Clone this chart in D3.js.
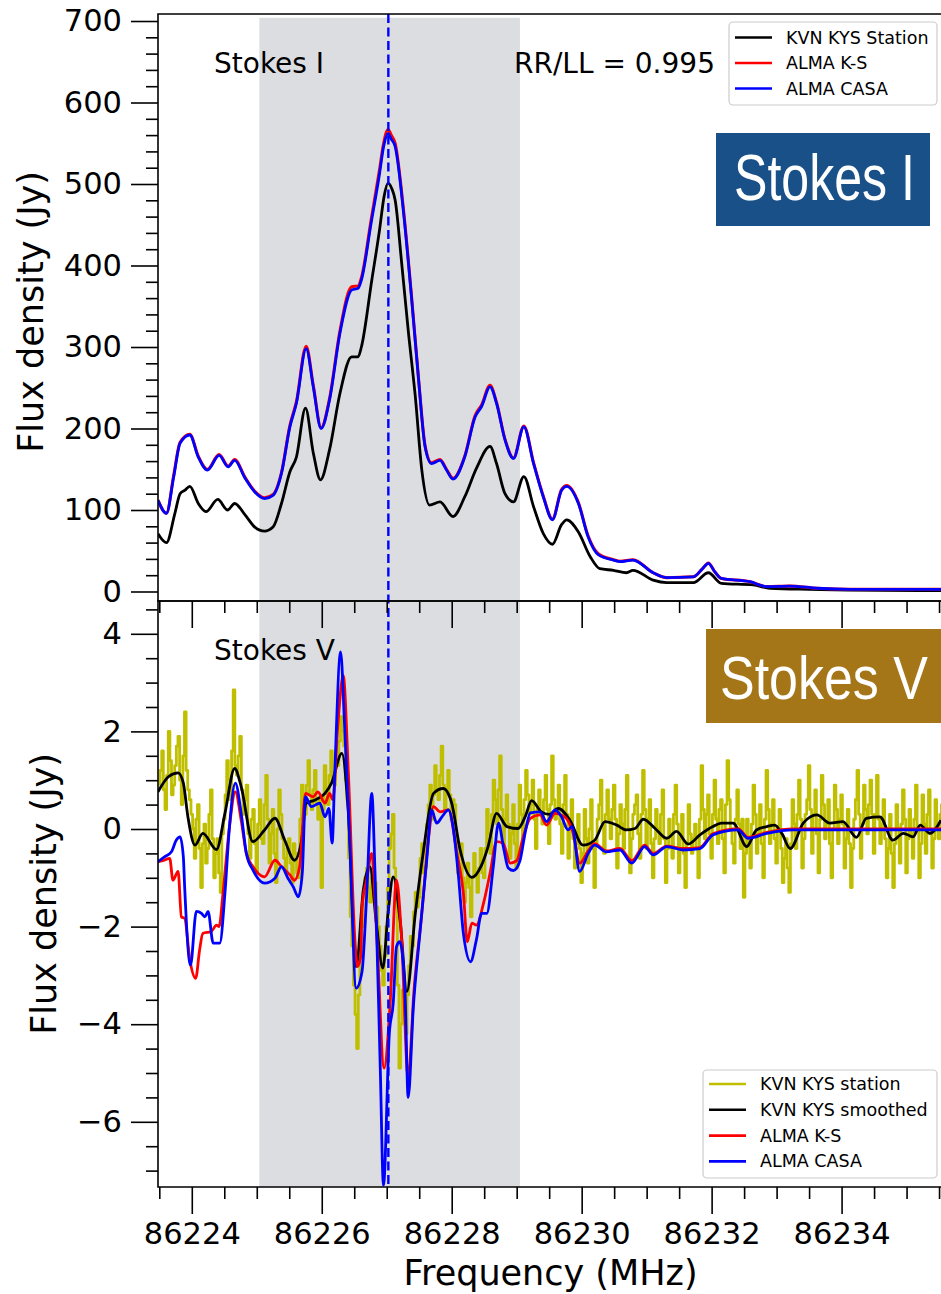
<!DOCTYPE html>
<html>
<head>
<meta charset="utf-8">
<script src="https://cdnjs.cloudflare.com/ajax/libs/d3/7.8.5/d3.min.js"></script>
<style>
  body { margin: 0; background: #fff; }
  svg { display: block; font-family: 'DejaVu Sans', sans-serif; }
</style>
</head>
<body>
<svg id="chart"></svg>
<script>
// ---- Stokes I spectra: [frequency (MHz), flux (Jy)] ----
let iKvn = [[86223.48,71],[86223.61,60],[86223.74,96],[86223.82,120],[86223.89,124],[86223.97,129],[86224.10,108],
  [86224.22,98],[86224.40,113],[86224.55,100],[86224.66,108],[86224.82,94],[86224.97,79],[86225.12,74],[86225.25,79],
  [86225.38,108],[86225.51,147],[86225.61,165],[86225.75,225],[86225.87,170],[86225.98,137],[86226.12,174],[86226.28,243],
  [86226.46,288],[86226.56,288],[86226.61,300],[86226.77,382],[86226.89,444],[86226.96,485],[86227.02,501],[86227.08,494],
  [86227.13,480],[86227.23,403],[86227.33,321],[86227.44,239],[86227.54,149],[86227.66,106],[86227.82,110],[86228.02,92],
  [86228.20,116],[86228.38,151],[86228.59,178],[86228.69,157],[86228.82,120],[86228.95,110],[86229.11,141],[86229.26,104],
  [86229.41,71],[86229.55,58],[86229.69,82],[86229.77,88],[86229.95,73],[86230.13,43],[86230.28,28],[86230.49,26],
  [86230.69,23],[86230.79,26],[86231.10,14],[86231.31,11],[86231.72,11],[86231.95,23],[86232.15,10],[86232.64,8],
  [86232.90,4],[86233.50,2.7],[86235.53,1]];

let iAlmaKS = [[86223.48,112],[86223.61,96],[86223.72,142],[86223.82,183],[86223.97,193],[86224.10,166],[86224.24,150],
  [86224.42,168],[86224.56,154],[86224.66,162],[86224.82,140],[86224.97,123],[86225.12,115],[86225.25,119],[86225.38,146],
  [86225.51,204],[86225.61,233],[86225.76,301],[86225.87,253],[86225.99,201],[86226.12,237],[86226.28,320],[86226.46,374],
  [86226.56,375],[86226.61,385],[86226.76,456],[86226.89,518],[86226.95,549],[86227.02,567],[86227.07,560],[86227.13,550],
  [86227.26,467],[86227.38,364],[86227.49,261],[86227.59,179],[86227.69,158],[86227.82,162],[86227.92,150],[86228.02,139],
  [86228.20,166],[86228.36,216],[86228.46,229],[86228.59,253],[86228.69,232],[86228.82,187],[86228.95,164],[86229.11,203],
  [86229.26,158],[86229.41,117],[86229.55,89],[86229.69,125],[86229.77,130],[86229.95,109],[86230.10,68],[86230.26,46],
  [86230.49,39],[86230.59,37],[86230.79,39],[86231.10,23],[86231.31,17],[86231.72,18],[86231.86,28],[86231.95,35],
  [86232.05,24],[86232.15,16],[86232.59,12],[86232.85,6],[86233.20,6.7],[86233.62,4],[86234.13,2.7],[86235.53,2.7]];

let iAlmaCasa = [[86223.48,112],[86223.61,96],[86223.72,140],[86223.82,182],[86223.97,192],[86224.10,165],[86224.24,149],
  [86224.42,167],[86224.56,153],[86224.66,161],[86224.82,139],[86224.97,122],[86225.12,114],[86225.25,118],[86225.38,145],
  [86225.51,202],[86225.61,231],[86225.76,298],[86225.87,251],[86225.99,200],[86226.12,235],[86226.28,317],[86226.46,370],
  [86226.56,372],[86226.61,382],[86226.76,452],[86226.89,513],[86226.95,545],[86227.02,562],[86227.07,555],[86227.13,546],
  [86227.26,464],[86227.38,362],[86227.49,260],[86227.59,178],[86227.69,157],[86227.82,161],[86227.92,149],[86228.02,138],
  [86228.20,165],[86228.36,214],[86228.46,227],[86228.59,251],[86228.69,231],[86228.82,186],[86228.95,163],[86229.11,202],
  [86229.26,157],[86229.41,116],[86229.55,88],[86229.69,124],[86229.77,129],[86229.95,108],[86230.10,67],[86230.26,45],
  [86230.49,38.6],[86230.59,36.6],[86230.79,38.6],[86231.10,23],[86231.31,17],[86231.72,18],[86231.86,28],[86231.95,34.6],
  [86232.05,24],[86232.15,16],[86232.59,12],[86232.85,6],[86233.20,6.7],[86233.62,4],[86234.13,2.7],[86235.53,2.7]];

// ---- Stokes V spectra ----
// raw KVN channels, 0.025 MHz apart starting at 86223.50 (one row = 0.5 MHz)
let vKvnRawStart = 86223.50;
let vKvnRawStep = 0.025;
let vKvnRaw = [
  0.9, 1.2, 1.6, 0.8, 0.4, 1.1, 2.0, 1.4, 0.7, 0.9, 1.3, 1.7, 1.9, 1.0, 0.5, 1.5, 2.4, 1.2, 0.8, 0.6,
  0.3, 0.0, -0.6, 0.2, 0.5, -0.4, -1.2, -0.3, 0.1, -0.7, -0.4, 0.3, 0.8, -0.2, -1.0, -0.5, -0.2, -0.9, -1.3, -0.1,
  0.2, 0.7, 1.4, 1.0, 0.6, 1.6, 2.85, 1.3, 1.1, 1.5, 1.9, 0.8, 0.3, 0.6, 0.9, -0.1, -0.6, 0.2, 0.4, -0.3,
  -0.9, 0.1, 0.6, -0.2, -0.3, 0.5, 1.1, 0.2, -0.7, -0.1, 0.4, -0.5, -1.1, 0.0, 0.8, 0.3, -0.2, -0.6, -0.9, -0.4,
  -0.2, -0.7, -1.1, -0.3, -0.5, -0.9, -1.0, 0.2, 0.9, 0.6, 0.3, 0.9, 1.4, 0.7, 0.4, 0.8, 1.2, 0.5, 0.2, 0.6,
  -1.2, 0.4, 1.3, 0.8, 0.5, 1.1, 1.6, 1.0, 0.9, 1.4, 1.3, 1.8, 2.3, 2.0, 1.7, 1.0, 0.6, -0.6, -1.8, -2.4,
  -3.2, -3.8, -4.5, -3.4, -2.6, -2.0, -1.4, -1.0, -0.8, -1.2, -1.5, -1.0, -0.6, -1.1, -1.6, -2.0, -2.4, -2.9, -3.2, -2.6,
  -2.0, -1.2, -0.4, -0.1, 0.3, -0.8, -1.6, -3.2, -4.9, -4.0, -3.3, -3.8, -4.2, -3.4, -2.8, -2.2, -2.4, -1.7, -1.3, -1.6,
  -1.4, -0.6, -0.3, -0.9, -0.8, 0.1, 0.5, 0.9, 0.2, 0.7, 1.3, 0.8, 0.6, 1.1, 1.7, 0.9, 0.4, 0.8, 1.2, 0.7,
  0.2, 0.6, 0.5, -0.3, -0.9, -0.5, -0.3, -1.0, -1.5, -1.1, -0.7, -1.2, -1.8, -1.0, -0.5, -0.9, -1.3, -0.8, -0.4, -0.9,
  -1.0, -0.4, 0.4, -0.1, -0.5, 0.3, 1.0, 0.6, 0.1, 0.8, 1.5, 0.4, -0.3, 0.2, 0.7, 0.1, -0.6, -0.1, 0.5, -0.3,
  -0.8, 0.1, 0.9, 0.3, -0.2, 0.6, 1.2, 0.7, 0.3, 0.5, 1.0, 0.2, -0.4, 0.4, 0.8, 0.3, 0.1, 0.6, 1.1, 0.4,
  -0.3, 0.5, 1.5, 0.6, 0.2, 0.4, 0.9, 0.1, -0.5, 0.5, 1.1, 0.3, -0.6, 0.0, 0.6, -0.2, -0.8, -0.3, 0.3, -0.4,
  -1.1, -0.5, 0.4, -0.2, -0.7, 0.0, 0.6, -0.4, -1.2, -0.3, 0.2, 0.5, 1.0, 0.1, -0.5, 0.3, 0.8, 0.2, -0.2, 0.4,
  0.9, 0.2, -0.8, -0.1, 0.5, 0.1, -0.4, 0.4, 1.1, 0.0, -0.9, -0.2, 0.3, 0.5, 0.7, -0.1, -0.6, 0.3, 1.2, 0.4,
  -0.4, 0.2, 0.6, -0.3, -1.0, -0.2, 0.4, 0.0, -0.3, 0.3, 0.8, -0.2, -1.1, -0.4, 0.2, -0.1, -0.6, 0.3, 0.9, 0.1,
  -0.9, -0.2, 0.3, -0.5, -1.2, -0.3, 0.5, -0.1, -0.5, -0.2, 0.1, -0.4, -1.0, 0.2, 1.3, 0.4, -0.2, 0.3, 0.7, -0.1,
  -0.6, 0.3, 1.0, 0.2, -0.3, 0.4, 0.6, -0.2, -0.9, 0.5, 1.4, 0.6, 0.0, -0.3, -0.7, 0.2, 0.8, 0.1, -0.4, 0.2,
  -1.4, -0.5, 0.2, -0.3, -0.8, 0.1, 0.9, 0.3, -0.5, -0.1, 0.5, -0.3, -1.0, 0.2, 1.2, 0.4, -0.3, 0.1, 0.6, -0.2,
  -0.7, 0.0, 0.4, -0.4, -1.1, -0.6, -0.2, -0.8, -1.3, -0.3, 0.6, 0.1, -0.4, 0.3, 1.0, 0.2, -0.8, -0.2, 0.3, 0.6,
  1.3, 0.4, -0.5, 0.3, 0.8, -0.1, -0.9, 0.2, 1.1, 0.5, -0.2, 0.1, 0.6, -0.3, -1.0, 0.0, 0.9, 0.4, -0.3, 0.2,
  0.7, 0.1, -0.8, -0.2, 0.4, -0.3, -1.2, -0.4, 0.2, 0.6, 1.2, 0.3, -0.6, 0.1, 0.9, 0.4, -0.1, 0.5, 1.0, 0.3,
  -0.5, 0.3, 1.1, 0.2, -0.3, 0.1, 0.6, -0.2, -1.0, -0.4, 0.3, -0.5, -1.2, -0.3, 0.5, 0.0, -0.7, 0.1, 0.8, 0.2,
  -0.9, -0.2, 0.4, -0.1, -0.6, 0.2, 0.9, 0.0, -1.0, -0.3, 0.7, 0.1, -0.5, 0.3, 0.8, -0.1, -0.8, -0.2, 0.6, 0.1,
  -0.2, 0.3, 0.5];

let vKvnSmooth = [[86223.48,0.76],[86223.64,1.07],[86223.79,1.15],[86223.87,0.94],[86223.94,0.25],[86224.05,-0.33],
  [86224.17,-0.09],[86224.38,-0.42],[86224.51,0.32],[86224.66,1.24],[86224.76,0.87],[86224.94,-0.26],[86225.12,-0.02],
  [86225.28,0.22],[86225.43,-0.23],[86225.58,-0.64],[86225.69,-0.23],[86225.76,0.53],[86225.89,0.59],[86226.05,0.73],
  [86226.15,0.94],[86226.31,1.55],[86226.41,0.32],[86226.53,-2.82],[86226.64,-1.25],[86226.74,-0.77],[86226.84,-1.93],
  [86226.94,-2.85],[86227.02,-1.73],[86227.10,-0.98],[86227.21,-1.93],[86227.31,-3.33],[86227.44,-1.73],[86227.56,-0.5],
  [86227.72,0.73],[86227.87,0.83],[86228.00,0.53],[86228.13,-0.43],[86228.31,-0.99],[86228.46,-0.74],[86228.56,-0.36],
  [86228.69,0.32],[86228.85,0.05],[86229.02,0.01],[86229.13,0.25],[86229.23,0.58],[86229.38,0.35],[86229.50,0.3],
  [86229.64,0.42],[86229.82,0.18],[86230.02,-0.33],[86230.20,-0.23],[86230.36,0.15],[86230.54,0.08],[86230.69,-0.02],
  [86230.82,0.01],[86230.95,0.2],[86231.13,0.01],[86231.31,-0.19],[86231.46,-0.05],[86231.64,-0.31],[86231.82,-0.12],
  [86232.02,0.05],[86232.15,0.12],[86232.33,0.12],[86232.54,-0.36],[86232.69,-0.02],[86232.85,0.05],[86232.97,0.08],
  [86233.08,-0.09],[86233.21,-0.4],[86233.41,0.12],[86233.62,0.29],[86233.82,0.12],[86234.02,0.15],[86234.23,-0.17],
  [86234.38,0.22],[86234.59,0.25],[86234.79,-0.23],[86234.95,-0.09],[86235.10,-0.16],[86235.21,0.08],[86235.36,-0.09],
  [86235.53,0.18]];

let vAlmaKS = [[86223.48,-0.67],[86223.58,-0.64],[86223.66,-0.6],[86223.71,-1.05],[86223.79,-0.87],[86223.84,-1.8],
  [86223.89,-1.83],[86223.97,-2.68],[86224.06,-3.06],[86224.12,-2.48],[86224.17,-2.14],[86224.30,-2.1],[86224.38,-1.97],
  [86224.42,-2.0],[86224.48,-1.32],[86224.58,0.05],[86224.67,0.76],[86224.76,0.18],[86224.84,-0.5],[86224.94,-0.77],
  [86225.12,-0.98],[86225.28,-0.64],[86225.38,-0.77],[86225.51,-0.94],[86225.58,-1.05],[86225.66,-0.77],[86225.75,0.73],
  [86225.87,0.66],[86225.94,0.76],[86226.05,0.53],[86226.12,0.73],[86226.17,0.6],[86226.25,2.17],[86226.33,3.15],
  [86226.41,1.14],[86226.51,-2.27],[86226.55,-2.82],[86226.60,-2.62],[86226.62,-1.59],[86226.69,-1.05],[86226.77,-0.5],
  [86226.85,-2.27],[86226.96,-4.9],[86227.05,-3.64],[86227.15,-1.05],[86227.23,-2.27],[86227.33,-5.1],[86227.42,-3.3],
  [86227.54,-1.73],[86227.64,-0.23],[86227.72,0.46],[86227.82,0.35],[86227.95,0.39],[86228.08,-0.5],[86228.18,-1.32],
  [86228.24,-2.31],[86228.31,-1.93],[86228.38,-1.97],[86228.49,-1.52],[86228.59,-0.91],[86228.69,-0.26],[86228.79,-0.29],
  [86228.90,-0.7],[86229.00,-0.65],[86229.10,-0.16],[86229.21,0.22],[86229.36,0.29],[86229.46,0.08],[86229.59,0.32],
  [86229.74,0.25],[86229.87,-0.09],[86229.97,-0.7],[86230.10,-0.45],[86230.20,-0.3],[86230.38,-0.45],[86230.59,-0.4],
  [86230.77,-0.65],[86230.97,-0.33],[86231.10,-0.5],[86231.31,-0.35],[86231.56,-0.4],[86231.82,-0.38],[86232.02,-0.1],
  [86232.41,0.0],[86232.56,-0.17],[86232.85,-0.07],[86233.26,0.0],[86235.53,0.0]];

let vAlmaCasa = [[86223.48,-0.67],[86223.58,-0.57],[86223.69,-0.46],[86223.76,-0.23],[86223.82,-0.16],[86223.87,-0.57],
  [86223.89,-1.18],[86223.98,-2.79],[86224.07,-1.69],[86224.15,-1.73],[86224.20,-1.8],[86224.25,-1.69],[86224.33,-2.34],
  [86224.43,-2.34],[86224.51,-1.32],[86224.58,0.05],[86224.67,0.94],[86224.76,0.32],[86224.84,-0.5],[86224.94,-0.84],
  [86225.12,-1.11],[86225.28,-1.01],[86225.38,-0.77],[86225.48,-1.01],[86225.56,-1.18],[86225.64,-1.39],[86225.70,-0.91],
  [86225.75,0.66],[86225.84,0.46],[86225.97,0.53],[86226.05,0.25],[86226.11,0.42],[86226.16,-0.29],[86226.20,1.14],
  [86226.29,3.63],[86226.35,2.17],[86226.43,-0.23],[86226.53,-3.26],[86226.62,-2.92],[86226.69,-1.39],[86226.77,0.73],
  [86226.82,-0.91],[86226.90,-4.87],[86226.95,-7.3],[86227.04,-4.19],[86227.10,-3.57],[86227.15,-2.41],[86227.20,-2.31],
  [86227.28,-3.3],[86227.33,-5.5],[86227.41,-3.64],[86227.51,-2.14],[86227.62,-0.57],[86227.69,0.39],[86227.77,0.12],
  [86227.85,0.25],[86227.95,0.39],[86228.02,0.05],[86228.10,-0.91],[86228.18,-2.14],[86228.29,-2.72],[86228.38,-2.27],
  [86228.46,-1.73],[86228.54,-1.73],[86228.64,-0.77],[86228.72,0.12],[86228.80,-0.4],[86228.87,-0.8],[86228.95,-0.85],
  [86229.05,-0.65],[86229.13,-0.08],[86229.21,0.33],[86229.36,0.35],[86229.46,0.15],[86229.59,0.39],[86229.69,0.25],
  [86229.79,-0.02],[86229.85,0.05],[86229.97,-0.87],[86230.10,-0.5],[86230.20,-0.33],[86230.38,-0.47],[86230.59,-0.43],
  [86230.77,-0.7],[86230.97,-0.36],[86231.10,-0.53],[86231.31,-0.36],[86231.56,-0.43],[86231.82,-0.40],[86232.02,-0.12],
  [86232.41,-0.02],[86232.56,-0.19],[86232.85,-0.09],[86233.26,-0.02],[86235.53,-0.02]];

// shaded window and line-of-sight velocity marker
let windowRange = [86225.04, 86229.05];
let markerFreq = 86227.025;

// axes
let xDomain = [86223.48, 86235.53];
let xTicks = [86224, 86226, 86228, 86230, 86232, 86234];
let iDomain = [-11.66, 708.6];
let iTicks = [0, 100, 200, 300, 400, 500, 600, 700];
let vDomain = [-7.336, 4.672];
let vTicks = [-6, -4, -2, 0, 2, 4];

let legendI = ['KVN KYS Station', 'ALMA K-S', 'ALMA CASA'];
let legendIColors = ['#000000', '#ff0000', '#0000ff'];
let legendV = ['KVN KYS station', 'KVN KYS smoothed', 'ALMA K-S', 'ALMA CASA'];
let legendVColors = ['#bfbf00', '#000000', '#ff0000', '#0000ff'];

let width = 941;
let height = 1294;
let left = 158, right = 941;
let topI = 14, bottomI = 601;
let topV = 601, bottomV = 1187;

let svg = d3.select('#chart').attr('width', width).attr('height', height);

let xScale = d3.scaleLinear().domain(xDomain).range([left, right]);
let yI = d3.scaleLinear().domain(iDomain).range([bottomI, topI]);
let yV = d3.scaleLinear().domain(vDomain).range([bottomV, topV]);

let defs = svg.append('defs');
defs.append('clipPath').attr('id', 'clipI').append('rect')
    .attr('x', left).attr('y', topI).attr('width', right - left).attr('height', bottomI - topI);
defs.append('clipPath').attr('id', 'clipV').append('rect')
    .attr('x', left).attr('y', topV).attr('width', right - left).attr('height', bottomV - topV);

// grey window
svg.append('rect')
   .attr('x', xScale(windowRange[0]))
   .attr('y', yI(704))
   .attr('width', xScale(windowRange[1]) - xScale(windowRange[0]))
   .attr('height', bottomI - yI(704))
   .attr('fill', '#dcdde0');
svg.append('rect')
   .attr('x', xScale(windowRange[0]))
   .attr('y', topV)
   .attr('width', xScale(windowRange[1]) - xScale(windowRange[0]))
   .attr('height', bottomV - topV)
   .attr('fill', '#dcdde0');

let drawLine = (data, yScale, color, clip, curve, w) => {
    let line = d3.line()
                 .x((d) => xScale(d[0]))
                 .y((d) => yScale(d[1]))
                 .curve(curve);
    svg.append('path')
       .datum(data)
       .attr('clip-path', 'url(#' + clip + ')')
       .attr('d', line)
       .attr('fill', 'none')
       .attr('stroke', color)
       .attr('stroke-width', w)
       .attr('stroke-linejoin', 'round');
}

// top panel: Stokes I
drawLine(iKvn, yI, '#000000', 'clipI', d3.curveMonotoneX, 2.8);
drawLine(iAlmaKS, yI, '#ff0000', 'clipI', d3.curveMonotoneX, 3);
drawLine(iAlmaCasa, yI, '#0000ff', 'clipI', d3.curveMonotoneX, 2.8);

// bottom panel: Stokes V
let rawPoints = vKvnRaw.map((v, i) => [vKvnRawStart + i * vKvnRawStep, v]);
drawLine(rawPoints, yV, '#bfbf00', 'clipV', d3.curveStep, 2.8);
drawLine(vKvnSmooth, yV, '#000000', 'clipV', d3.curveMonotoneX, 2.8);
drawLine(vAlmaKS, yV, '#ff0000', 'clipV', d3.curveMonotoneX, 2.8);
drawLine(vAlmaCasa, yV, '#0000ff', 'clipV', d3.curveMonotoneX, 2.8);

// dashed marker through both panels
svg.append('line')
   .attr('x1', xScale(markerFreq)).attr('x2', xScale(markerFreq))
   .attr('y1', topI).attr('y2', bottomV)
   .attr('stroke', '#0000ff')
   .attr('stroke-width', 2.4)
   .attr('stroke-dasharray', '9,4.5');

// frames
let frame = (y0, y1) => {
    svg.append('path')
       .attr('d', 'M' + right + ',' + y0 + 'H' + left + 'V' + y1 + 'H' + right)
       .attr('fill', 'none')
       .attr('stroke', '#000')
       .attr('stroke-width', 1.6);
}
frame(topI, bottomI);
frame(topV, bottomV);

// axes
let styleAxis = (g) => {
    g.select('.domain').remove();
    g.selectAll('line').attr('stroke', '#000').attr('stroke-width', 1.6);
    g.selectAll('text').attr('fill', '#000')
     .attr('font-family', 'DejaVu Sans, sans-serif').attr('font-size', 30.5);
}

let minorOf = (lo, hi, step, majors) => d3.range(lo, hi + step / 2, step)
    .map((v) => Math.round(v * 1000) / 1000)
    .filter((v) => !majors.includes(v));

svg.append('g').attr('transform', 'translate(' + left + ',0)')
   .call(d3.axisLeft(yI).tickValues(iTicks).tickFormat(d3.format('d')).tickSize(27).tickPadding(9))
   .call(styleAxis);
svg.append('g').attr('transform', 'translate(' + left + ',0)')
   .call(d3.axisLeft(yI).tickValues(minorOf(0, 700, 20, iTicks)).tickFormat('').tickSize(12))
   .call(styleAxis);

svg.append('g').attr('transform', 'translate(' + left + ',0)')
   .call(d3.axisLeft(yV).tickValues(vTicks).tickFormat(d3.format('d')).tickSize(27).tickPadding(9))
   .call(styleAxis);
svg.append('g').attr('transform', 'translate(' + left + ',0)')
   .call(d3.axisLeft(yV).tickValues(minorOf(-7, 4.5, 0.5, vTicks)).tickFormat('').tickSize(12))
   .call(styleAxis);

let xMinor = minorOf(86223.5, 86235.5, 0.5, xTicks);
svg.append('g').attr('transform', 'translate(0,' + bottomI + ')')
   .call(d3.axisBottom(xScale).tickValues(xTicks).tickFormat('').tickSize(27))
   .call(styleAxis);
svg.append('g').attr('transform', 'translate(0,' + bottomI + ')')
   .call(d3.axisBottom(xScale).tickValues(xMinor).tickFormat('').tickSize(12))
   .call(styleAxis);
svg.append('g').attr('transform', 'translate(0,' + bottomV + ')')
   .call(d3.axisBottom(xScale).tickValues(xTicks).tickFormat(d3.format('d')).tickSize(27).tickPadding(8))
   .call(styleAxis);
svg.append('g').attr('transform', 'translate(0,' + bottomV + ')')
   .call(d3.axisBottom(xScale).tickValues(xMinor).tickFormat('').tickSize(12))
   .call(styleAxis);

// axis titles
svg.append('text')
   .attr('transform', 'translate(43,' + 312 + ') rotate(-90)')
   .attr('text-anchor', 'middle').attr('font-size', 35)
   .text('Flux density (Jy)');
svg.append('text')
   .attr('transform', 'translate(56,' + (topV + bottomV) / 2 + ') rotate(-90)')
   .attr('text-anchor', 'middle').attr('font-size', 35)
   .text('Flux density (Jy)');
svg.append('text')
   .attr('x', (left + right) / 2 + 1).attr('y', 1285)
   .attr('text-anchor', 'middle').attr('font-size', 35)
   .text('Frequency (MHz)');

// panel annotations
svg.append('text').attr('x', 214).attr('y', 73).attr('font-size', 28).text('Stokes I');
svg.append('text').attr('x', 514).attr('y', 73).attr('font-size', 28).text('RR/LL = 0.995');
svg.append('text').attr('x', 214).attr('y', 660).attr('font-size', 28).text('Stokes V');

// coloured badges, text squeezed horizontally like a narrow face
let badge = (x, y, w, h, fill, label, tx, ty, tl, fs) => {
    svg.append('rect').attr('x', x).attr('y', y).attr('width', w).attr('height', h).attr('fill', fill);
    let t = svg.append('text')
       .attr('fill', '#fff')
       .attr('font-family', 'Liberation Sans, Arial, sans-serif')
       .attr('font-size', fs)
       .text(label);
    let len = t.node().getComputedTextLength();
    t.attr('transform', 'translate(' + tx + ',' + ty + ') scale(' + (tl / len) + ',1)');
}
badge(716, 133, 214, 93, '#1a5088', 'Stokes I', 734, 200, 181, 64);
badge(706, 629, 240, 94, '#a47618', 'Stokes V', 720, 699, 208, 62);

// legends
let drawLegend = (x, y, w, h, labels, colors, rowStart, rowGap, textX) => {
    svg.append('rect')
       .attr('x', x).attr('y', y).attr('width', w).attr('height', h)
       .attr('rx', 4).attr('fill', '#fff').attr('fill-opacity', 0.8)
       .attr('stroke', '#cccccc').attr('stroke-width', 1.2);
    labels.forEach((lab, i) => {
        let cy = rowStart + i * rowGap;
        svg.append('line')
           .attr('x1', x + 6).attr('x2', x + 43).attr('y1', cy).attr('y2', cy)
           .attr('stroke', colors[i]).attr('stroke-width', 2.6);
        svg.append('text')
           .attr('x', textX).attr('y', cy + 6)
           .attr('font-size', 17.5)
           .text(lab);
    });
}
drawLegend(729, 22, 208, 83, legendI, legendIColors, 37.5, 25.5, 786);
drawLegend(703, 1070, 234, 108, legendV, legendVColors, 1084, 25.8, 760);
</script>
</body>
</html>
